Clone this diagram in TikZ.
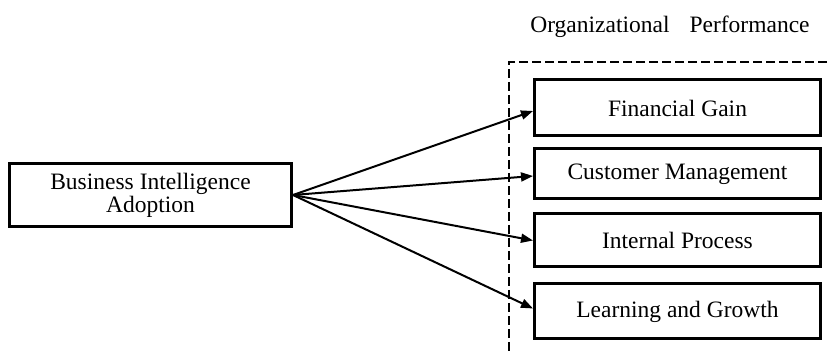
\documentclass[tikz,border=0pt]{standalone}
\usepackage{fontspec}
\setmainfont{Liberation Serif}
\usetikzlibrary{arrows.meta}
\tikzset{
  boxnode/.style={draw=black, line width=3pt, inner sep=0pt, fill=white,
    font=\fontsize{23.5}{23}\selectfont, align=center},
  linkarrow/.style={draw=black, line width=2pt, -{Triangle[length=12pt,width=9pt]}},
  groupframe/.style={draw=black, line width=2.2pt, dash pattern=on 9pt off 4pt}
}
\begin{document}
\begin{tikzpicture}[x=1pt,y=-1pt]
\useasboundingbox (0,0) rectangle (831,352);
\fill[white] (0,0) rectangle (831,352);
% dashed frame (extends beyond picture)
\begin{scope}
\clip (0,0) rectangle (831,352);
\draw[groupframe] (840,62) -- (509,62) -- (509,360);
\end{scope}
% title
\node[anchor=base, font=\fontsize{23.5}{23}\selectfont, inner sep=0pt] (title) at (670,33) {Organizational\hspace{20pt}Performance};
% boxes
\node[boxnode, minimum width=282pt, minimum height=63pt] (bia) at (150.5,195) {Business Intelligence\\Adoption};
\node[boxnode, minimum width=286pt, minimum height=56pt] (fg) at (677.5,108) {Financial Gain};
\node[boxnode, minimum width=286pt, minimum height=50pt] (cm) at (677.5,174) {Customer Management};
\node[boxnode, minimum width=286pt, minimum height=53pt] (ip) at (677.5,240.5) {Internal Process};
\node[boxnode, minimum width=286pt, minimum height=55pt] (lg) at (677.5,311.5) {Learning and Growth};
% arrows
\draw[linkarrow] (bia.east) -- ([yshift=-3pt]fg.west);
\draw[linkarrow] (bia.east) -- ([yshift=-2pt]cm.west);
\draw[linkarrow] (bia.east) -- (ip.west);
\draw[linkarrow] (bia.east) -- ([yshift=3pt]lg.west);
\end{tikzpicture}
\end{document}
